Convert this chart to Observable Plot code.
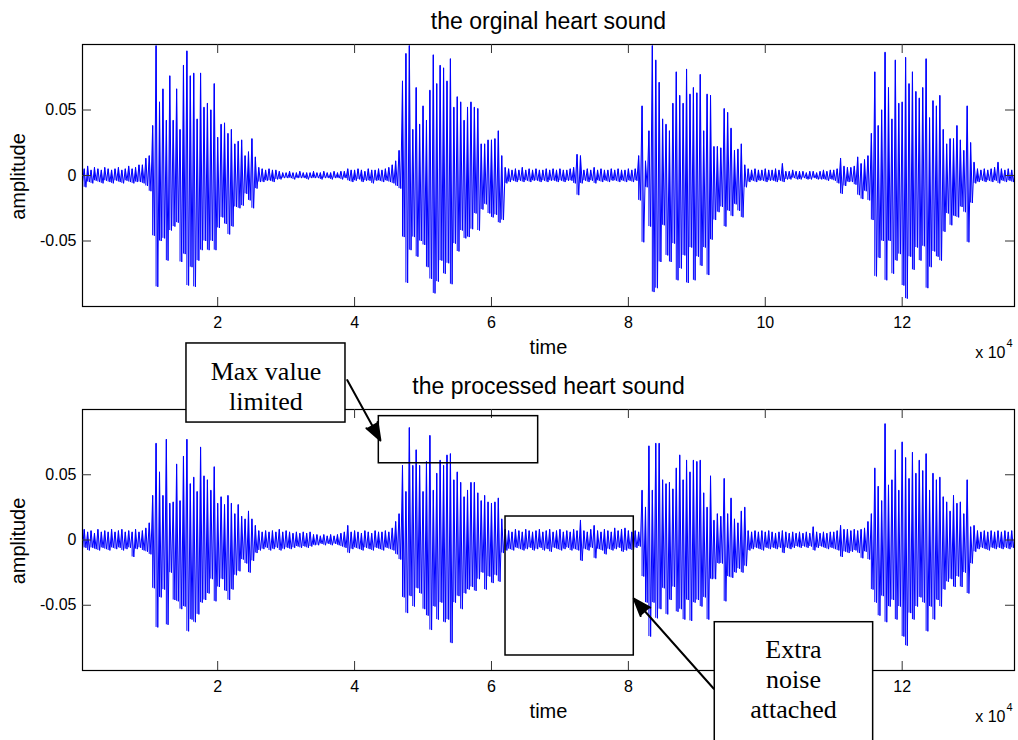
<!DOCTYPE html>
<html><head><meta charset="utf-8">
<script src="https://cdn.jsdelivr.net/npm/d3@7"></script>
<script src="https://cdn.jsdelivr.net/npm/@observablehq/plot@0.6"></script>
<style>
html,body{margin:0;padding:0;background:#fff;}
#wrap{position:relative;width:1018px;height:740px;overflow:hidden;}
#wrap svg{position:absolute;left:0;}
</style></head><body><div id="wrap"></div>
<script>
// Envelope readings of the waveform (peak high / peak low) every 0.05 x 10^4 samples
const sampleStep = 0.05;
const topHi = [
0.006,0.005,0.007,0.004,0.006,0.005,0.004,0.006,0.005,0.004,
0.005,0.006,0.004,0.005,0.007,0.005,0.006,0.008,0.008,0.013,
0.015,0.038,0.099,0.056,0.066,0.042,0.076,0.042,0.066,0.035,
0.084,0.095,0.076,0.078,0.043,0.078,0.052,0.055,0.050,0.070,
0.029,0.039,0.040,0.032,0.035,0.024,0.026,0.027,0.015,0.018,
0.028,0.014,0.006,0.005,0.004,0.005,0.004,0.004,0.003,0.002,
0.002,0.003,0.002,0.002,0.003,0.002,0.002,0.002,0.003,0.002,
0.002,0.003,0.002,0.002,0.003,0.002,0.003,0.003,0.005,0.004,
0.004,0.005,0.004,0.003,0.005,0.004,0.004,0.005,0.004,0.005,
0.006,0.008,0.011,0.019,0.072,0.093,0.099,0.035,0.067,0.039,
0.053,0.042,0.065,0.092,0.070,0.084,0.082,0.072,0.089,0.052,
0.060,0.056,0.042,0.052,0.056,0.052,0.051,0.024,0.024,0.027,
0.027,0.028,0.034,0.015,0.006,0.005,0.004,0.005,0.004,0.006,
0.004,0.005,0.004,0.005,0.004,0.004,0.005,0.004,0.005,0.004,
0.005,0.004,0.004,0.005,0.006,0.016,0.015,0.004,0.005,0.004,
0.006,0.004,0.005,0.004,0.004,0.005,0.004,0.005,0.004,0.004,
0.005,0.004,0.005,0.015,0.053,0.011,0.034,0.099,0.088,0.071,
0.043,0.039,0.034,0.055,0.079,0.061,0.055,0.081,0.062,0.067,
0.063,0.077,0.034,0.062,0.061,0.022,0.022,0.021,0.051,0.048,
0.036,0.019,0.020,0.024,0.008,0.005,0.004,0.005,0.004,0.004,
0.005,0.004,0.004,0.005,0.004,0.009,0.003,0.003,0.004,0.003,
0.003,0.003,0.002,0.003,0.003,0.002,0.003,0.004,0.003,0.004,
0.004,0.005,0.013,0.007,0.006,0.006,0.007,0.014,0.009,0.012,
0.015,0.032,0.079,0.038,0.050,0.094,0.067,0.043,0.088,0.055,
0.056,0.090,0.070,0.079,0.064,0.059,0.067,0.089,0.044,0.057,
0.053,0.061,0.035,0.024,0.028,0.028,0.038,0.027,0.019,0.053,
0.025,0.010,0.005,0.004,0.005,0.004,0.005,0.006,0.010,0.005,
0.004,0.005,0.004,0.005];
const topLo = [
-0.005,-0.009,-0.005,-0.006,-0.004,-0.005,-0.006,-0.004,-0.005,-0.006,
-0.004,-0.005,-0.006,-0.004,-0.005,-0.006,-0.005,-0.005,-0.006,-0.008,
-0.012,-0.046,-0.085,-0.050,-0.048,-0.065,-0.042,-0.039,-0.036,-0.066,
-0.060,-0.084,-0.070,-0.085,-0.065,-0.057,-0.050,-0.057,-0.050,-0.057,
-0.040,-0.032,-0.037,-0.045,-0.039,-0.024,-0.025,-0.023,-0.014,-0.019,
-0.025,-0.010,-0.005,-0.005,-0.004,-0.004,-0.005,-0.003,-0.003,-0.002,
-0.002,-0.002,-0.003,-0.002,-0.002,-0.002,-0.003,-0.002,-0.002,-0.002,
-0.003,-0.002,-0.002,-0.003,-0.002,-0.002,-0.003,-0.002,-0.004,-0.005,
-0.004,-0.003,-0.005,-0.004,-0.004,-0.006,-0.004,-0.004,-0.005,-0.004,
-0.005,-0.006,-0.008,-0.010,-0.047,-0.082,-0.057,-0.047,-0.062,-0.050,
-0.053,-0.070,-0.079,-0.090,-0.081,-0.065,-0.075,-0.067,-0.083,-0.052,
-0.058,-0.042,-0.048,-0.047,-0.041,-0.029,-0.042,-0.026,-0.022,-0.029,
-0.032,-0.030,-0.036,-0.034,-0.006,-0.005,-0.004,-0.005,-0.004,-0.005,
-0.004,-0.005,-0.004,-0.004,-0.005,-0.004,-0.005,-0.004,-0.004,-0.005,
-0.004,-0.005,-0.004,-0.004,-0.006,-0.015,-0.006,-0.004,-0.005,-0.004,
-0.006,-0.004,-0.005,-0.004,-0.005,-0.004,-0.004,-0.005,-0.004,-0.005,
-0.004,-0.005,-0.004,-0.019,-0.051,-0.009,-0.039,-0.089,-0.086,-0.066,
-0.038,-0.061,-0.066,-0.052,-0.080,-0.071,-0.061,-0.082,-0.055,-0.080,
-0.062,-0.069,-0.055,-0.076,-0.049,-0.034,-0.028,-0.024,-0.039,-0.027,
-0.031,-0.022,-0.027,-0.032,-0.009,-0.005,-0.004,-0.005,-0.004,-0.004,
-0.005,-0.004,-0.004,-0.005,-0.004,-0.005,-0.003,-0.003,-0.002,-0.003,
-0.003,-0.002,-0.003,-0.003,-0.002,-0.003,-0.003,-0.003,-0.004,-0.003,
-0.004,-0.006,-0.014,-0.008,-0.005,-0.005,-0.007,-0.015,-0.018,-0.012,
-0.019,-0.034,-0.077,-0.063,-0.050,-0.080,-0.050,-0.075,-0.065,-0.060,
-0.084,-0.094,-0.062,-0.072,-0.055,-0.065,-0.054,-0.086,-0.070,-0.058,
-0.062,-0.065,-0.043,-0.029,-0.038,-0.031,-0.032,-0.024,-0.028,-0.051,
-0.021,-0.006,-0.005,-0.004,-0.005,-0.004,-0.005,-0.004,-0.006,-0.004,
-0.005,-0.004,-0.005,-0.004];
const botHi = [
0.007,0.008,0.006,0.007,0.005,0.008,0.006,0.007,0.006,0.008,
0.006,0.007,0.008,0.006,0.007,0.006,0.008,0.006,0.007,0.009,
0.013,0.034,0.074,0.052,0.034,0.077,0.028,0.029,0.058,0.030,
0.064,0.077,0.043,0.048,0.037,0.071,0.049,0.046,0.038,0.056,
0.028,0.033,0.027,0.034,0.028,0.020,0.027,0.018,0.016,0.022,
0.016,0.011,0.007,0.006,0.007,0.006,0.007,0.006,0.008,0.006,
0.007,0.006,0.005,0.006,0.005,0.006,0.005,0.006,0.004,0.004,
0.003,0.004,0.003,0.004,0.003,0.004,0.005,0.006,0.011,0.006,
0.007,0.006,0.005,0.007,0.006,0.005,0.007,0.006,0.006,0.007,
0.006,0.009,0.014,0.020,0.057,0.037,0.086,0.057,0.069,0.057,
0.037,0.060,0.080,0.038,0.051,0.061,0.057,0.065,0.066,0.046,
0.052,0.044,0.033,0.038,0.044,0.044,0.036,0.030,0.034,0.029,
0.028,0.029,0.032,0.016,0.008,0.007,0.006,0.008,0.007,0.006,
0.008,0.007,0.006,0.007,0.008,0.006,0.007,0.008,0.006,0.007,
0.008,0.006,0.007,0.006,0.008,0.007,0.015,0.007,0.006,0.008,
0.011,0.007,0.006,0.008,0.007,0.006,0.009,0.007,0.008,0.009,
0.007,0.006,0.007,0.006,0.038,0.025,0.072,0.038,0.074,0.074,
0.046,0.043,0.044,0.039,0.055,0.065,0.046,0.061,0.052,0.061,
0.060,0.061,0.036,0.025,0.049,0.015,0.020,0.018,0.047,0.020,
0.032,0.016,0.013,0.022,0.025,0.007,0.006,0.007,0.006,0.007,
0.006,0.007,0.006,0.005,0.006,0.007,0.006,0.005,0.006,0.005,
0.006,0.005,0.006,0.005,0.010,0.006,0.005,0.006,0.005,0.006,
0.006,0.007,0.011,0.008,0.008,0.007,0.008,0.007,0.008,0.009,
0.014,0.020,0.055,0.041,0.030,0.089,0.042,0.046,0.069,0.038,
0.075,0.063,0.047,0.067,0.051,0.061,0.053,0.066,0.038,0.051,
0.046,0.048,0.033,0.029,0.022,0.034,0.028,0.029,0.020,0.046,
0.010,0.011,0.007,0.006,0.007,0.006,0.007,0.006,0.007,0.006,
0.007,0.006,0.007,0.006];
const botLo = [
-0.007,-0.006,-0.008,-0.006,-0.007,-0.008,-0.006,-0.007,-0.008,-0.006,
-0.007,-0.006,-0.008,-0.007,-0.006,-0.013,-0.007,-0.006,-0.008,-0.009,
-0.011,-0.037,-0.067,-0.044,-0.038,-0.065,-0.025,-0.046,-0.047,-0.053,
-0.051,-0.070,-0.061,-0.063,-0.057,-0.048,-0.046,-0.041,-0.030,-0.047,
-0.036,-0.030,-0.039,-0.046,-0.038,-0.027,-0.024,-0.015,-0.018,-0.025,
-0.016,-0.010,-0.008,-0.007,-0.006,-0.008,-0.007,-0.006,-0.008,-0.007,
-0.006,-0.007,-0.006,-0.005,-0.006,-0.005,-0.006,-0.005,-0.004,-0.004,
-0.003,-0.004,-0.003,-0.004,-0.003,-0.004,-0.005,-0.006,-0.010,-0.007,
-0.006,-0.007,-0.008,-0.006,-0.007,-0.008,-0.006,-0.007,-0.008,-0.006,
-0.007,-0.008,-0.011,-0.015,-0.044,-0.056,-0.043,-0.051,-0.037,-0.041,
-0.053,-0.058,-0.069,-0.051,-0.061,-0.048,-0.063,-0.061,-0.079,-0.048,
-0.043,-0.053,-0.041,-0.038,-0.036,-0.039,-0.030,-0.025,-0.038,-0.028,
-0.033,-0.027,-0.032,-0.010,-0.008,-0.007,-0.008,-0.006,-0.007,-0.008,
-0.007,-0.006,-0.008,-0.007,-0.006,-0.008,-0.007,-0.009,-0.006,-0.007,
-0.008,-0.007,-0.006,-0.008,-0.007,-0.008,-0.016,-0.007,-0.008,-0.006,
-0.014,-0.007,-0.008,-0.011,-0.007,-0.008,-0.007,-0.006,-0.009,-0.008,
-0.007,-0.008,-0.006,-0.005,-0.028,-0.048,-0.074,-0.048,-0.060,-0.053,
-0.037,-0.057,-0.046,-0.036,-0.055,-0.053,-0.061,-0.046,-0.062,-0.048,
-0.046,-0.051,-0.044,-0.061,-0.030,-0.030,-0.018,-0.018,-0.047,-0.028,
-0.029,-0.025,-0.022,-0.025,-0.020,-0.008,-0.007,-0.006,-0.007,-0.008,
-0.006,-0.007,-0.006,-0.007,-0.006,-0.010,-0.006,-0.007,-0.006,-0.005,
-0.006,-0.005,-0.006,-0.005,-0.008,-0.006,-0.005,-0.006,-0.007,-0.006,
-0.007,-0.008,-0.013,-0.009,-0.010,-0.009,-0.008,-0.010,-0.014,-0.009,
-0.015,-0.038,-0.048,-0.058,-0.043,-0.063,-0.051,-0.046,-0.061,-0.051,
-0.074,-0.081,-0.056,-0.061,-0.051,-0.044,-0.048,-0.070,-0.051,-0.061,
-0.046,-0.051,-0.038,-0.032,-0.030,-0.036,-0.028,-0.036,-0.025,-0.041,
-0.018,-0.009,-0.007,-0.006,-0.007,-0.008,-0.006,-0.007,-0.006,-0.007,
-0.006,-0.007,-0.006,-0.007];

const xTicks = [2, 4, 6, 8, 10, 12];
const xTickLabelsTop = [2, 4, 6, 8, 10, 12];
const xTickLabelsBottom = [2, 4, 6, 8, 12];   // "10" is hidden behind the callout box
const yTicks = [-0.05, 0, 0.05];
const xDomain = [0.025, 13.641];   // x 10^4 samples
const yDomain = [-0.1, 0.1];

// Annotations of the processed panel, in data units (x 10^4 samples, amplitude)
const regionBoxes = [
  {x1: 4.354, x2: 6.682, y1: 0.0588, y2: 0.0949},
  {x1: 6.205, x2: 8.079, y1: -0.0885, y2: 0.0180}
];
const calloutBoxes = [
  {x1: 1.544, x2: 3.867, y1: 0.0900, y2: 0.1506},
  {x1: 9.262, x2: 11.576, y1: -0.1766, y2: -0.0630}
];
const calloutTexts = [
  {x: 2.705, y: 0.1184, text: "Max value\nlimited"},
  {x: 10.412, y: -0.1061, text: "Extra\nnoise\nattached"}
];
const arrows = [
  {x1: 3.892, y1: 0.1226, x2: 4.378, y2: 0.0762},
  {x1: 9.248, y1: -0.1140, x2: 8.079, y2: -0.0450}
];

for (const [n, a] of Object.entries({topHi, topLo, botHi, botLo})) {
  if (a.length !== 274) throw new Error(n + " length " + a.length);
}

const zigzag = (hi, lo) => hi.flatMap((h, i) => [
  {t: i * sampleStep, v: h},
  {t: (i + 0.5) * sampleStep, v: lo[i]}
]);
const bins = (hi, lo) => hi.map((h, i) => ({t: i * sampleStep, hi: h, lo: lo[i]}));

const sans = "'Liberation Sans', Arial, Helvetica, sans-serif";
const serif = "'Liberation Serif', 'Times New Roman', serif";
const blue = "#0000ff";

function panel({hi, lo, title, labels, height, marginTop, marginBottom, top, extra = []}) {
  const frameH = height - marginTop - marginBottom;
  const frameW = 1018 - 82 - 4;
  const svg = Plot.plot({
    width: 1018, height,
    marginLeft: 82, marginRight: 4, marginTop, marginBottom,
    x: {domain: xDomain, label: null},
    y: {domain: yDomain, label: null},
    style: {background: "transparent", fontFamily: sans, fontSize: "16px", overflow: "hidden", color: "black"},
    marks: [
      Plot.ruleX(bins(hi, lo), {x: "t", y1: "lo", y2: "hi", stroke: blue, strokeWidth: 1, clip: true}),
      Plot.line(zigzag(hi, lo), {x: "t", y: "v", stroke: blue, strokeWidth: 1, clip: true}),
      Plot.frame({stroke: "black", strokeWidth: 1.2}),
      Plot.tickX(xTicks, {x: d => d, insetBottom: frameH - 9, stroke: "#333"}),
      Plot.tickX(xTicks, {x: d => d, insetTop: frameH - 9, stroke: "#333"}),
      Plot.tickY(yTicks, {y: d => d, insetRight: frameW - 9, stroke: "#333"}),
      Plot.tickY(yTicks, {y: d => d, insetLeft: frameW - 9, stroke: "#333"}),
      Plot.axisX({ticks: labels, tickSize: 0, tickPadding: 10, fontSize: 16, label: null, tickFormat: d => String(d)}),
      Plot.axisY({ticks: yTicks, tickSize: 0, tickPadding: 6, fontSize: 16, label: null, tickFormat: d => d === 0 ? "0" : String(d)}),
      Plot.text([title], {text: d => d, frameAnchor: "top", dy: -23, fontSize: 23, lineAnchor: "middle"}),
      Plot.text(["time"], {text: d => d, frameAnchor: "bottom", dy: 41, fontSize: 20, lineAnchor: "middle"}),
      Plot.text(["x 10"], {text: d => d, frameAnchor: "bottom-right", dx: -9, dy: 46, textAnchor: "end", fontSize: 16, lineAnchor: "middle"}),
      Plot.text(["4"], {text: d => d, frameAnchor: "bottom-right", dx: -8, dy: 37, textAnchor: "start", fontSize: 11, lineAnchor: "middle"}),
      Plot.text(["amplitude"], {text: d => d, frameAnchor: "left", dx: -64, dy: 1, rotate: -90, fontSize: 20, textAnchor: "middle", lineAnchor: "middle"}),
      ...extra
    ]
  });
  svg.style.top = top + "px";
  document.getElementById("wrap").appendChild(svg);
}

panel({hi: topHi, lo: topLo, title: "the orginal heart sound", labels: xTickLabelsTop, height: 370, marginTop: 44, marginBottom: 64, top: 0});
panel({hi: botHi, lo: botLo, title: "the processed heart sound", labels: xTickLabelsBottom, height: 410, marginTop: 79, marginBottom: 70, top: 330,
  extra: [
    Plot.rect(regionBoxes, {x1: "x1", x2: "x2", y1: "y1", y2: "y2", fill: "none", stroke: "black", strokeWidth: 1.5}),
    Plot.rect(calloutBoxes, {x1: "x1", x2: "x2", y1: "y1", y2: "y2", fill: "white", stroke: "black", strokeWidth: 1.5}),
    Plot.arrow(arrows, {x1: "x1", y1: "y1", x2: "x2", y2: "y2", stroke: "black", fill: "black", strokeWidth: 2, headLength: 14, headAngle: 40}),
    Plot.text(calloutTexts, {x: "x", y: "y", text: "text", fontFamily: serif, fontSize: 26, lineHeight: 1.15, lineAnchor: "middle", fill: "black"})
  ]
});
</script></body></html>
